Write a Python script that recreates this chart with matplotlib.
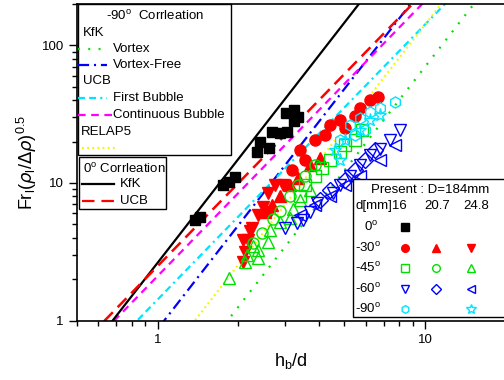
import matplotlib
matplotlib.use("Agg")
import matplotlib.pyplot as plt
import numpy as np
from matplotlib.lines import Line2D
from matplotlib.patches import Rectangle

plt.rcParams["font.family"] = ["Liberation Sans", "DejaVu Sans"]
plt.rcParams["lines.scale_dashes"] = False

# correlation lines: Fr = (h/d / c)^n
corr_names = ["KfK Vortex", "KfK Vortex-Free", "UCB First Bubble",
              "UCB Continuous Bubble", "RELAP5", "0 KfK", "0 UCB"]
corr_c = [1.83, 1.06, 0.84, 0.69, 1.38, 0.68, 0.635]
corr_n = [2.5, 2.5, 2.0, 2.0, 2.5, 2.5, 2.0]
corr_colors = ["#00e000", "#0000ff", "#00e5ff", "#ff00ff", "#f5f500", "#000000", "#ff0000"]
corr_dashes = [(1.4, 6), (8, 3.5, 1.5, 3.5), (5, 3, 5, 3, 1.5, 3), (5.5, 4),
               (1.3, 2.4), None, (9, 5)]

# present data (h_b/d, Fr)
sq0_x = [1.38, 1.44, 1.76, 1.85, 1.95, 2.36, 2.42, 2.62, 2.68, 2.87, 3.05, 3.02, 3.25, 3.35, 3.25]
sq0_y = [5.4, 5.7, 9.6, 10.2, 11.0, 16.7, 19.8, 18.0, 23.3, 23.0, 23.3, 32.5, 34.0, 30.0, 28.0]

r16_x = [3.19, 3.41, 3.56, 3.88, 4.22, 4.41, 4.81, 5.02, 5.47, 5.71, 6.23, 6.66]
r16_y = [12.4, 17.3, 14.6, 20.4, 22.2, 26.2, 28.5, 25.0, 30.9, 34.9, 39.9, 42.5]
r20_x = [2.52, 2.68, 2.87, 3.13, 3.35, 3.72, 4.05]
r20_y = [6.2, 6.9, 8.1, 9.6, 10.8, 13.4, 15.1]
r24_x = [2.09, 2.12, 2.18, 2.26, 2.37, 2.48, 2.63, 2.59, 2.75, 2.94, 2.09, 2.22]
r24_y = [2.66, 3.14, 3.84, 4.7, 5.8, 6.7, 6.1, 8.4, 9.6, 9.6, 3.84, 4.5]

g16_x = [3.56, 3.88, 4.12, 4.41, 4.81, 5.02, 5.47, 5.81, 3.41]
g16_y = [9.6, 11.3, 12.8, 14.6, 16.7, 18.8, 20.4, 24.1, 8.1]
g20_x = [2.28, 2.46, 2.70, 2.87, 3.13, 3.35, 3.56, 3.88]
g20_y = [3.66, 4.3, 5.5, 6.3, 8.1, 9.6, 11.3, 13.4]
g24_x = [1.85, 2.12, 2.16, 2.37, 2.37, 2.28, 2.59, 2.63, 2.87, 3.13, 3.2, 3.41, 3.72]
g24_y = [2.03, 2.66, 3.0, 2.85, 3.25, 3.5, 3.7, 4.54, 5.2, 5.6, 6.5, 7.5, 8.85]

b16_x = [2.99, 3.32, 3.5, 3.72, 3.94, 4.53, 4.81, 5.24, 5.71, 6.23, 6.79, 7.40, 8.07]
b16_y = [4.7, 5.1, 5.4, 6.1, 7.1, 8.4, 9.6, 11.3, 13.4, 15.9, 17.8, 20.4, 24.1]
b20_x = [4.05, 4.41, 5.02, 5.47, 5.97, 6.51]
b20_y = [7.5, 8.85, 10.5, 12.4, 14.6, 17.3]
b24_x = [3.41, 3.88, 4.41, 5.02, 5.71, 6.79, 7.7]
b24_y = [5.8, 6.9, 8.1, 9.6, 11.3, 14.6, 18.8]

c16_x = [5.24, 5.71, 6.23, 6.79, 7.7, 5.47, 5.97, 4.81]
c16_y = [26.2, 29.5, 32.7, 34.9, 38.6, 22.2, 24.1, 20.4]
c24_x = [4.62, 5.02, 5.71, 6.23, 6.79, 4.81]
c24_y = [17.3, 20.4, 24.1, 28.5, 31.0, 14.6]

W, H = 504, 380
fig = plt.figure(figsize=(W / 100, H / 100), dpi=100)
ax = fig.add_axes([77 / W, 1 - 320.5 / H, 428.5 / W, 316.5 / H])
ax.set_xscale("log")
ax.set_yscale("log")
ax.set_xlim(0.5, 20)
ax.set_ylim(1, 200)

xs = np.logspace(np.log10(0.5), np.log10(20), 200)
for c, n, col, d in zip(corr_c, corr_n, corr_colors, corr_dashes):
    ln, = ax.plot(xs, (xs / c) ** n, color=col, lw=1.8 if col == "#ff0000" else 1.6,
                  zorder=2)
    if d is not None:
        ln.set_dashes(d)

ms = 7.5
ax.plot(sq0_x, sq0_y, "s", color="black", ms=ms, zorder=3)
ax.plot(r16_x, r16_y, "o", color="red", ms=ms + 0.5, zorder=3)
ax.plot(r20_x, r20_y, "^", color="red", ms=ms + 1, zorder=3)
ax.plot(r24_x, r24_y, "v", color="red", ms=ms + 1, zorder=3)
for x, y, m in [(g16_x, g16_y, "s"), (g20_x, g20_y, "o"), (g24_x, g24_y, "^")]:
    ax.plot(x, y, m, mfc="none", mec="#00e000", mew=1, ms=ms + 0.5, zorder=3)
for x, y, m in [(b16_x, b16_y, "v"), (b20_x, b20_y, "D"), (b24_x, b24_y, "<")]:
    ax.plot(x, y, m, mfc="none", mec="#0000ff", mew=1, ms=ms + 0.5, zorder=3)
ax.plot(c16_x, c16_y, "h", mfc="none", mec="#00e5ff", mew=1, ms=ms + 0.5, zorder=3)
ax.plot(c24_x, c24_y, "*", mfc="none", mec="#00e5ff", mew=1, ms=ms + 2, zorder=3)

ax.set_xticks([1, 10])
ax.set_xticklabels(["1", "10"])
ax.set_yticks([1, 10, 100])
ax.set_yticklabels(["1", "10", "100"])
ax.tick_params(which="major", direction="out", length=6, width=1, labelsize=9.5)
ax.tick_params(which="minor", direction="out", length=3.5, width=1)
ax.tick_params(axis="y", which="minor", labelleft=False)
ax.tick_params(axis="x", which="minor", labelbottom=False)
for s in ax.spines.values():
    s.set_linewidth(1.2)

ax.set_xlabel(r"h$_\mathregular{b}$/d", fontsize=13, labelpad=4)
ax.set_ylabel(r"Fr$_\mathregular{l}$($\rho_\mathregular{l}$/$\Delta\rho$)$^\mathregular{0.5}$",
              fontsize=13, labelpad=2)


def fx(px):
    return px / W


def fy(py):
    return 1 - py / H


def box(x0, y0, x1, y1):
    fig.patches.append(Rectangle((fx(x0), fy(y1)), fx(x1) - fx(x0), fy(y0) - fy(y1),
                                 transform=fig.transFigure, fc="white", ec="black",
                                 lw=1, zorder=5))


def sample(x0, x1, y, col, d):
    ln = Line2D([fx(x0), fx(x1)], [fy(y), fy(y)], transform=fig.transFigure,
                color=col, lw=1.6, zorder=6)
    if d is not None:
        ln.set_dashes(d)
    fig.lines.append(ln)


def label(px, py, s, ha="left", size=9.5):
    fig.text(fx(px), fy(py), s, ha=ha, va="center", fontsize=size, zorder=7)


# -90 degree legend
box(78, 4, 231, 155)
label(155, 16, r"-90$^\mathregular{o}$  Corrleation", ha="center")
label(83, 33, "KfK")
sample(78, 107, 49, corr_colors[0], corr_dashes[0])
label(113, 49, "Vortex")
sample(78, 107, 65, corr_colors[1], corr_dashes[1])
label(113, 65, "Vortex-Free")
label(83, 81, "UCB")
sample(78, 107, 98, corr_colors[2], corr_dashes[2])
label(113, 98, "First Bubble")
sample(78, 114, 115, corr_colors[3], corr_dashes[3])
label(113, 115, "Continuous Bubble")
label(81, 132, "RELAP5")
sample(82, 115, 148, corr_colors[4], corr_dashes[4])

# 0 degree legend
box(79, 157, 166, 209)
label(83, 169, r"0$^\mathregular{o}$ Corrleation")
sample(82, 114, 184, corr_colors[5], corr_dashes[5])
label(120, 184, "KfK")
sample(82, 114, 201, corr_colors[6], corr_dashes[6])
label(120, 201, "UCB")

# present data legend
box(353, 179, 510, 317)
label(430, 190, "Present : D=184mm", ha="center")
label(355, 206, "d[mm]16")
label(437, 206, "20.7", ha="center")
label(476, 206, "24.8", ha="center")
rows = [r"0$^\mathregular{o}$", r"-30$^\mathregular{o}$", r"-45$^\mathregular{o}$",
        r"-60$^\mathregular{o}$", r"-90$^\mathregular{o}$"]
row_y = [227, 248, 268, 289, 309]
label(378, 227, rows[0], ha="right")
for r, yy in zip(rows[1:], row_y[1:]):
    label(355, yy, r)
leg_marks = [
    [("s", "black", True), None, None],
    [("o", "red", True), ("^", "red", True), ("v", "red", True)],
    [("s", "#00e000", False), ("o", "#00e000", False), ("^", "#00e000", False)],
    [("v", "#0000ff", False), ("D", "#0000ff", False), ("<", "#0000ff", False)],
    [("h", "#00e5ff", False), None, ("*", "#00e5ff", False)],
]
col_x = [405, 436, 471]
for row, yy in zip(leg_marks, row_y):
    for m, xx in zip(row, col_x):
        if m is None:
            continue
        mk, col, filled = m
        fig.lines.append(Line2D([fx(xx)], [fy(yy)], transform=fig.transFigure,
                                marker=mk, ms=5.5 if mk != "*" else 7,
                                mfc=col if filled else "none", mec=col, mew=1,
                                zorder=7))

fig.savefig("out.png", dpi=100)
